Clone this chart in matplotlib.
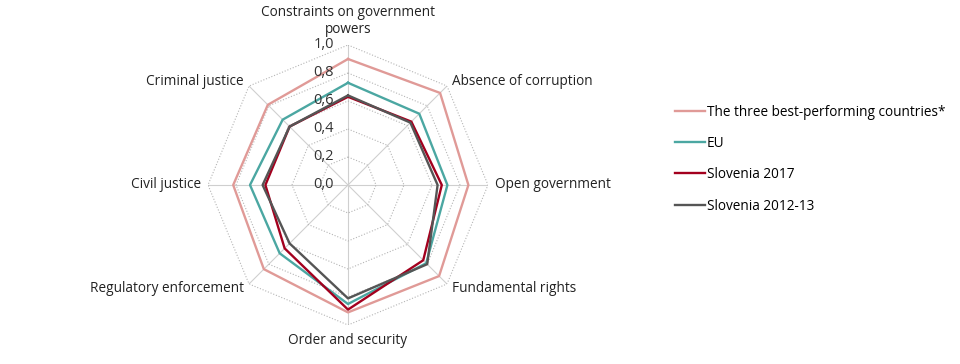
import numpy as np
import matplotlib.pyplot as plt

plt.rcParams['font.family'] = ['Open Sans', 'DejaVu Sans']

# categories clockwise from the top
categories = ["Constraints on government\npowers", "Absence of corruption",
              "Open government", "Fundamental rights", "Order and security",
              "Regulatory enforcement", "Civil justice", "Criminal justice"]

best3 = [0.90, 0.93, 0.86, 0.92, 0.91, 0.85, 0.82, 0.81]
eu = [0.73, 0.72, 0.71, 0.79, 0.85, 0.69, 0.70, 0.66]
slo_2017 = [0.63, 0.64, 0.67, 0.76, 0.89, 0.64, 0.59, 0.59]
slo_2012 = [0.64, 0.63, 0.64, 0.80, 0.81, 0.59, 0.61, 0.59]

series_names = ["The three best-performing countries*", "EU",
                "Slovenia 2017", "Slovenia 2012-13"]
series_colors = ["#e09a97", "#4ba7a2", "#a3001e", "#555555"]

ring_levels = [0.2, 0.4, 0.6, 0.8, 1.0]
tick_labels = ["0,0", "0,2", "0,4", "0,6", "0,8", "1,0"]

n = len(categories)
angles = np.linspace(0, 2 * np.pi, n, endpoint=False)
closed = np.append(angles, angles[0])

fig = plt.figure(figsize=(9.6, 3.64), dpi=100)
ax = fig.add_axes([208 / 960, 39 / 364, 280 / 960, 280 / 364], projection='polar')
ax.set_theta_zero_location('N')
ax.set_theta_direction(-1)
ax.set_ylim(0, 1.0)
ax.grid(False)
ax.spines['polar'].set_visible(False)
ax.set_xticks([])
ax.set_yticks([])
ax.patch.set_alpha(0)

# radial spokes
for a in angles:
    ax.plot([a, a], [0, 1.0], color="#cfcfcf", lw=0.8, zorder=1)
# octagon rings
for lvl in ring_levels:
    ax.plot(closed, [lvl] * (n + 1), color="#b5b5b5", lw=0.8, ls=(0, (1, 1.6)), zorder=1)

handles = []
for vals, name, col in zip([best3, eu, slo_2017, slo_2012], series_names, series_colors):
    v = np.append(vals, vals[0])
    h, = ax.plot(closed, v, color=col, lw=1.7, label=name, zorder=3)
    handles.append(h)

# radial tick labels
for i, lab in enumerate(tick_labels):
    ax.annotate(lab, xy=(0, i * 0.2), xytext=(-14, 0), textcoords='offset pixels',
                ha='right', va='center', fontsize=10.5, color="#333333", zorder=4)

# category labels
offsets = [(0, 8, 'center', 'bottom'), (5, 5, 'left', 'center'),
           (7, 0, 'left', 'center'), (5, -5, 'left', 'center'),
           (0, -15, 'center', 'center'), (-5, -5, 'right', 'center'),
           (-7, 0, 'right', 'center'), (-5, 5, 'right', 'center')]
for a, lab, (dx, dy, ha, va) in zip(angles, categories, offsets):
    ax.annotate(lab, xy=(a, 1.0), xytext=(dx, dy), textcoords='offset pixels',
                ha=ha, va=va, fontsize=9.8, color="#222222",
                multialignment='center', linespacing=1.2, annotation_clip=False)

fig.legend(handles=handles, loc='center left', bbox_to_anchor=(675 / 960, 1 - 159 / 364),
           frameon=False, fontsize=9.8, handlelength=2.2, handletextpad=0.15,
           labelspacing=1.2, borderpad=0, borderaxespad=0)

fig.savefig("out.png", dpi=100)
